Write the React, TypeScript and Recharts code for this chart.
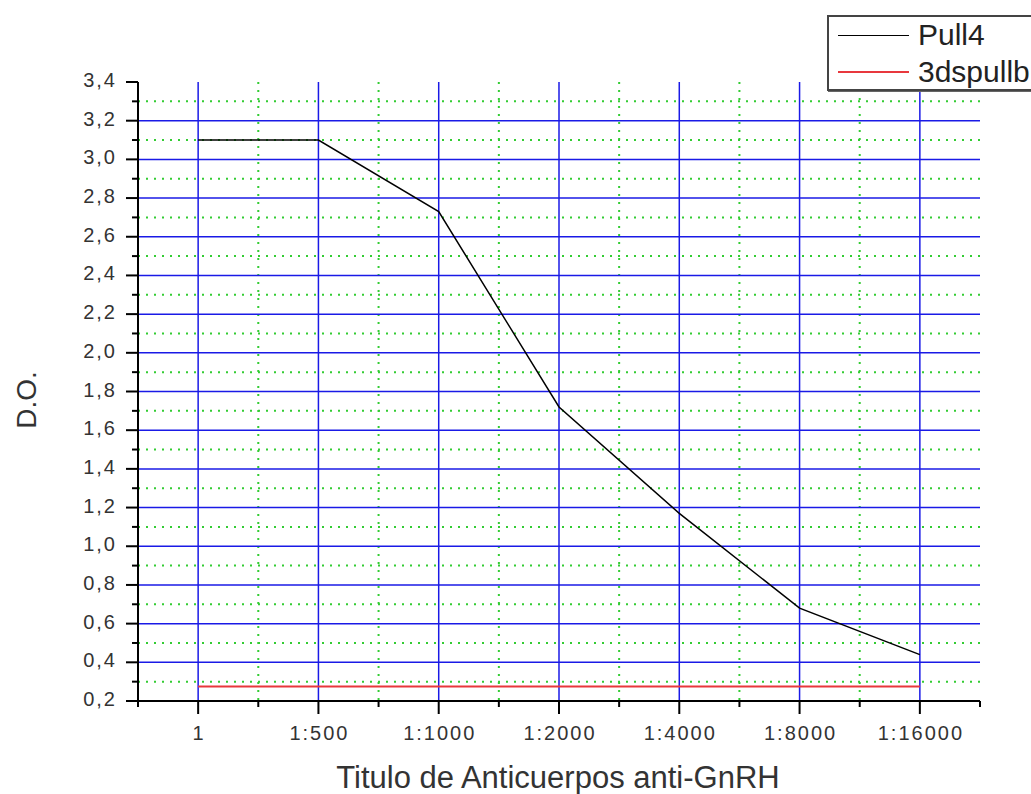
import React from "react";
import { LineChart, Line, XAxis, YAxis, CartesianGrid } from "recharts";

// dilution categories on the x axis
const categories = ["1", "1:500", "1:1000", "1:2000", "1:4000", "1:8000", "1:16000"];
const pull4 = [3.1, 3.1, 2.73, 1.72, 1.17, 0.68, 0.44];
const pullb = [0.275, 0.275, 0.275, 0.275, 0.275, 0.275, 0.275];

const xTicks = [-0.5, 0, 0.5, 1, 1.5, 2, 2.5, 3, 3.5, 4, 4.5, 5, 5.5, 6, 6.5];
const xMajor = [0, 1, 2, 3, 4, 5, 6];
const xMinor = [0.5, 1.5, 2.5, 3.5, 4.5, 5.5];
const yTicks = [
  0.2, 0.3, 0.4, 0.5, 0.6, 0.7, 0.8, 0.9, 1.0, 1.1, 1.2, 1.3, 1.4, 1.5, 1.6, 1.7,
  1.8, 1.9, 2.0, 2.1, 2.2, 2.3, 2.4, 2.5, 2.6, 2.7, 2.8, 2.9, 3.0, 3.1, 3.2, 3.3, 3.4,
];
const yMajor = [0.4, 0.6, 0.8, 1.0, 1.2, 1.4, 1.6, 1.8, 2.0, 2.2, 2.4, 2.6, 2.8, 3.0, 3.2];
const yMinor = [0.3, 0.5, 0.7, 0.9, 1.1, 1.3, 1.5, 1.7, 1.9, 2.1, 2.3, 2.5, 2.7, 2.9, 3.1, 3.3];

const series = [
  { key: "pull4", name: "Pull4", color: "#000000", width: 1.5 },
  { key: "pullb", name: "3dspullb", color: "#e8383d", width: 2 },
];

const data = categories.map((c, i) => ({ x: i, pull4: pull4[i], pullb: pullb[i] }));

const FONT = "'Liberation Sans', Arial, sans-serif";

const XTick = (props: any) => {
  const { x, y, payload } = props;
  const v = payload.value;
  const major = Number.isInteger(v);
  return (
    <g>
      <line x1={x} x2={x} y1={y} y2={y + (major ? 13 : 6)} stroke="#000" strokeWidth={2} />
      {major && (
        <text
          x={x + 1}
          y={y + 39}
          textAnchor="middle"
          fontSize={20}
          letterSpacing={2}
          fill="#333"
          fontFamily={FONT}
        >
          {categories[v]}
        </text>
      )}
    </g>
  );
};

const YTick = (props: any) => {
  const { x, y, payload } = props;
  const v = payload.value;
  const major = Math.round(v * 10) % 2 === 0;
  return (
    <g>
      <line x1={x} x2={x - (major ? 12 : 6)} y1={y} y2={y} stroke="#000" strokeWidth={2} />
      {major && (
        <text
          x={x - 21}
          y={y + 5}
          textAnchor="end"
          fontSize={20}
          letterSpacing={2}
          fill="#333"
          fontFamily={FONT}
        >
          {v.toFixed(1).replace(".", ",")}
        </text>
      )}
    </g>
  );
};

export default function App() {
  return (
    <div
      style={{
        position: "absolute",
        left: 0,
        top: 0,
        width: 1031,
        height: 794,
        overflow: "hidden",
        background: "#fff",
        fontFamily: FONT,
      }}
    >
      <LineChart
        width={1031}
        height={794}
        data={data}
        margin={{ top: 82, right: 51, bottom: 33, left: 78 }}
      >
        <CartesianGrid
          horizontalValues={yMinor}
          verticalValues={xMinor}
          stroke="#33cc33"
          strokeWidth={2}
          strokeDasharray="2 6"
        />
        <CartesianGrid
          horizontalValues={yMajor}
          verticalValues={xMajor}
          stroke="#1a1ae6"
          strokeWidth={1.5}
        />
        <XAxis
          type="number"
          dataKey="x"
          domain={[-0.5, 6.5]}
          ticks={xTicks}
          interval={0}
          height={60}
          tickSize={0}
          tickMargin={0}
          tickLine={false}
          axisLine={{ stroke: "#000", strokeWidth: 2 }}
          tick={<XTick />}
          allowDataOverflow
        />
        <YAxis
          type="number"
          domain={[0.2, 3.4]}
          ticks={yTicks}
          interval={0}
          width={60}
          tickSize={0}
          tickMargin={0}
          tickLine={false}
          axisLine={{ stroke: "#000", strokeWidth: 2 }}
          tick={<YTick />}
          allowDataOverflow
        />
        {series.map((s) => (
          <Line
            key={s.key}
            type="linear"
            dataKey={s.key}
            name={s.name}
            stroke={s.color}
            strokeWidth={s.width}
            dot={false}
            isAnimationActive={false}
          />
        ))}
      </LineChart>

      <div
        style={{
          position: "absolute",
          left: 27,
          top: 400,
          transform: "translate(-50%, -50%) rotate(-90deg)",
          fontSize: 28,
          lineHeight: 1,
          color: "#333",
          whiteSpace: "nowrap",
        }}
      >
        D.O.
      </div>
      <div
        style={{
          position: "absolute",
          left: 558,
          top: 777,
          transform: "translate(-50%, -50%)",
          fontSize: 31,
          lineHeight: 1,
          color: "#333",
          whiteSpace: "nowrap",
        }}
      >
        Titulo de Anticuerpos anti-GnRH
      </div>

      <div
        style={{
          position: "absolute",
          left: 827,
          top: 15,
          width: 260,
          height: 72,
          border: "2px solid #444",
          boxShadow: "1px 1px 0 #666",
          background: "#fff",
        }}
      >
        {series.map((s, i) => (
          <div
            key={s.key}
            style={{
              position: "absolute",
              left: 9,
              top: 1 + i * 37,
              height: 34,
              display: "flex",
              alignItems: "center",
            }}
          >
            <div style={{ width: 71, height: 0, borderTop: `${s.width}px solid ${s.color}` }} />
            <span style={{ marginLeft: 9, fontSize: 30, color: "#222", whiteSpace: "nowrap" }}>
              {s.name}
            </span>
          </div>
        ))}
      </div>
    </div>
  );
}
